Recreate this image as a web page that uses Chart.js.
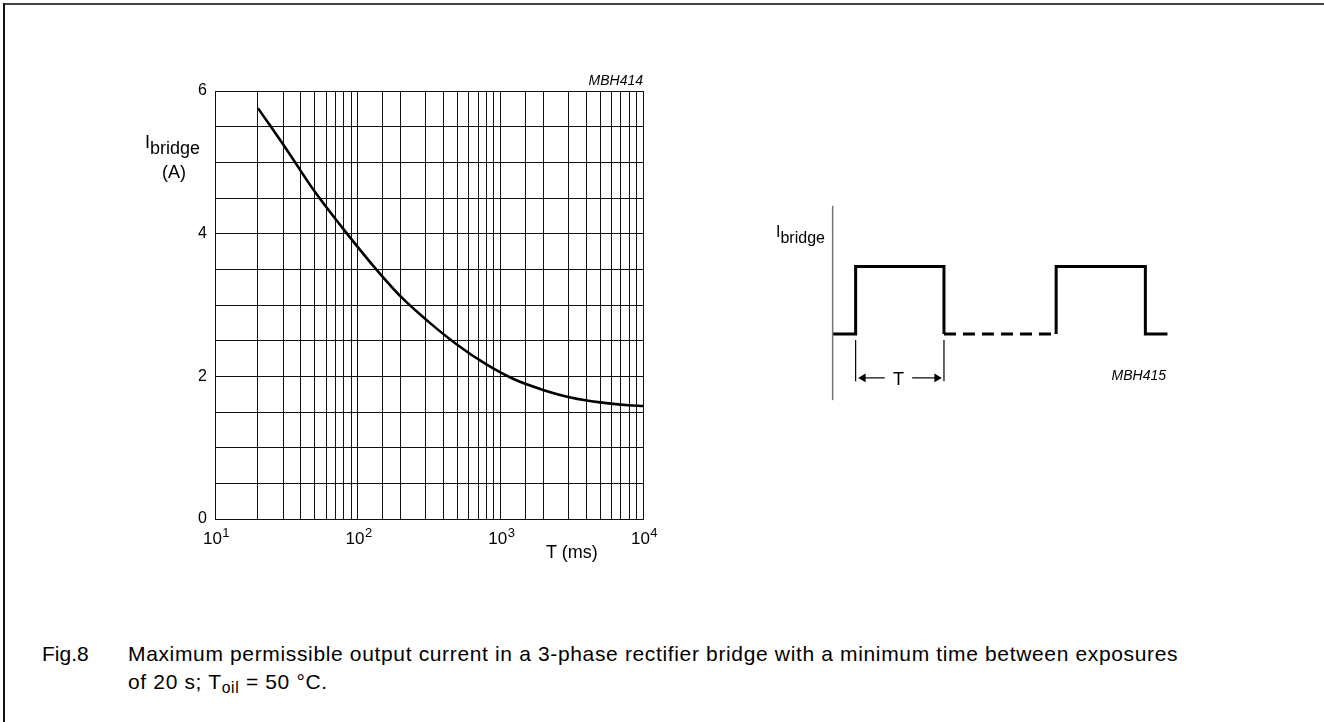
<!DOCTYPE html>
<html lang="en">
<head>
  <meta charset="UTF-8">
  <title>Fig.8 - Maximum permissible output current</title>
  <script src="https://cdn.jsdelivr.net/npm/chart.js"></script>
  <style>
    body { margin: 0; background: #fff; font-family: "Liberation Sans", Arial, sans-serif; color: #000; }
    #page { position: relative; width: 1324px; height: 722px; overflow: hidden; }
    .frame-top { position: absolute; left: 4px; top: 3px; right: 0; height: 0; border-top: 2px solid #444; }
    .frame-left { position: absolute; left: 3px; top: 3px; bottom: 0; width: 0; border-left: 2px solid #111; }
    canvas { position: absolute; }
    .lbl { position: absolute; white-space: nowrap; line-height: 1; }
    .lbl sub { font-size: 1em; vertical-align: -0.35em; }
    .code { font-style: italic; font-size: 14px; }
    .caption { position: absolute; left: 42px; top: 640px; font-size: 21px; line-height: 28px; letter-spacing: 0.65px; }
    .caption .fig { display: inline-block; width: 86px; letter-spacing: 0; }
    .caption sub { font-size: 0.75em; vertical-align: -0.25em; }
  </style>
</head>
<body>
<div id="page">
  <div class="frame-top"></div>
  <div class="frame-left"></div>

  <canvas id="chart" width="700" height="600" style="left:0;top:0;width:700px;height:600px"></canvas>
  <canvas id="pulse" width="371" height="216" style="left:815px;top:199px;width:371px;height:216px"></canvas>

  <div class="lbl" style="left:145px;top:133px;font-size:18px;">I<sub>bridge</sub></div>
  <div class="lbl" style="left:162px;top:163px;font-size:18px;">(A)</div>
  <div class="lbl" style="left:546px;top:543px;font-size:18px;">T (ms)</div>
  <div class="lbl code" style="right:681px;top:73px;">MBH414</div>

  <div class="lbl" style="left:776px;top:224px;font-size:16px;">I<sub>bridge</sub></div>
  <div class="lbl" style="left:893px;top:370px;font-size:18px;">T</div>
  <div class="lbl code" style="right:158px;top:368px;">MBH415</div>

  <div class="caption">
    <span class="fig">Fig.8</span>Maximum permissible output current in a 3-phase rectifier bridge with a minimum time between exposures<br>
    <span class="fig"></span>of 20 s; T<sub>oil</sub> = 50 °C.
  </div>
</div>

<script>
  // curve: T in ms, I in A
  const timeMs = [20, 32, 50, 79, 126, 200, 316, 501, 794, 1259, 1995, 3162, 5012, 7943, 10000];
  const currentA = [5.76, 5.17, 4.59, 4.07, 3.57, 3.12, 2.76, 2.44, 2.17, 1.955, 1.81, 1.70, 1.635, 1.595, 1.584];
  const decades = [10, 100, 1000, 10000];
  const yLabels = [0, 2, 4, 6];

  // pulse sketch, x in units of T, y low = 0 / high = 1
  const pulseX = [0, 0.26, 0.26, 1.26, 1.26, 2.53, 2.53, 3.54, 3.54, 3.79];
  const pulseY = [0, 0, 1, 1, 0, 0, 1, 1, 0, 0];
  const axisX = [0, 0];
  const axisY = [-0.98, 1.9];
  const markerY = [-0.09, -0.70];
  const arrowY = -0.65;

  Chart.defaults.font.family = '"Liberation Sans", Arial, sans-serif';
  Chart.defaults.color = "#000";

  const pts = (xs, ys) => xs.map((x, i) => ({ x: x, y: ys[i] }));

  // powers of ten with a raised exponent under each decade line
  const decadeLabels = {
    id: "decadeLabels",
    afterDraw(chart) {
      const ctx = chart.ctx;
      const xs = chart.scales.x;
      const base = chart.chartArea.bottom + 25;
      ctx.save();
      ctx.fillStyle = "#000";
      ctx.textBaseline = "alphabetic";
      ctx.textAlign = "left";
      decades.forEach(v => {
        const exp = String(Math.round(Math.log10(v)));
        ctx.font = '17px "Liberation Sans", Arial, sans-serif';
        const w1 = ctx.measureText("10").width;
        ctx.font = '13px "Liberation Sans", Arial, sans-serif';
        const w2 = ctx.measureText(exp).width;
        const x0 = xs.getPixelForValue(v) - (w1 + w2) / 2 + 1;
        ctx.font = '17px "Liberation Sans", Arial, sans-serif';
        ctx.fillText("10", x0, base);
        ctx.font = '13px "Liberation Sans", Arial, sans-serif';
        ctx.fillText(exp, x0 + w1 + 0.5, base - 7);
      });
      ctx.restore();
    }
  };

  new Chart(document.getElementById("chart"), {
    type: "scatter",
    data: {
      datasets: [{
        data: pts(timeMs, currentA),
        showLine: true,
        borderColor: "#000",
        borderWidth: 2.6,
        pointRadius: 0,
        cubicInterpolationMode: "monotone"
      }]
    },
    options: {
      responsive: false,
      animation: false,
      events: [],
      layout: { autoPadding: false, padding: { top: 91, right: 57, bottom: 0, left: 0 } },
      plugins: { legend: { display: false }, tooltip: { enabled: false } },
      scales: {
        x: {
          type: "logarithmic",
          min: 10,
          max: 10000,
          afterFit: s => { s.height = 81; },
          grid: { color: "#111", lineWidth: 1, drawTicks: false },
          border: { color: "#111", width: 1 },
          ticks: { autoSkip: false, maxRotation: 0, callback: () => "" }
        },
        y: {
          min: 0,
          max: 6,
          afterFit: s => { s.width = 215; },
          grid: { color: "#111", lineWidth: 1, drawTicks: false },
          border: { color: "#111", width: 1 },
          ticks: {
            stepSize: 0.5,
            padding: 8,
            font: { size: 16 },
            callback: v => yLabels.includes(v) ? String(v) : ""
          }
        }
      }
    },
    plugins: [decadeLabels]
  });

  const thin = { borderColor: "#000", borderWidth: 1.2, pointRadius: 0, showLine: true };

  new Chart(document.getElementById("pulse"), {
    type: "scatter",
    data: {
      datasets: [
        { data: pts(axisX, axisY), showLine: true, borderColor: "#777", borderWidth: 1.5, pointRadius: 0 },
        {
          data: pts(pulseX, pulseY),
          showLine: true,
          borderColor: "#000",
          borderWidth: 3,
          pointRadius: 0,
          borderJoinStyle: "miter",
          borderCapStyle: "butt",
          segment: { borderDash: ctx => ctx.p0DataIndex === 4 ? [12, 7] : undefined }
        },
        Object.assign({ data: pts([pulseX[1], pulseX[1]], markerY) }, thin),
        Object.assign({ data: pts([pulseX[3], pulseX[3]], markerY) }, thin),
        Object.assign({}, thin, {
          data: pts([0.59, 0.345], [arrowY, arrowY]),
          pointRadius: [0, 5], pointStyle: "triangle", rotation: -90,
          pointBackgroundColor: "#000", pointBorderWidth: 0
        }),
        Object.assign({}, thin, {
          data: pts([0.90, 1.18], [arrowY, arrowY]),
          pointRadius: [0, 5], pointStyle: "triangle", rotation: 90,
          pointBackgroundColor: "#000", pointBorderWidth: 0
        })
      ]
    },
    options: {
      responsive: false,
      animation: false,
      events: [],
      layout: { autoPadding: false, padding: 0 },
      plugins: { legend: { display: false }, tooltip: { enabled: false } },
      scales: {
        x: { type: "linear", min: -0.2, max: 4, display: false },
        y: { type: "linear", min: -1.2, max: 2, display: false }
      }
    }
  });
</script>
</body>
</html>
